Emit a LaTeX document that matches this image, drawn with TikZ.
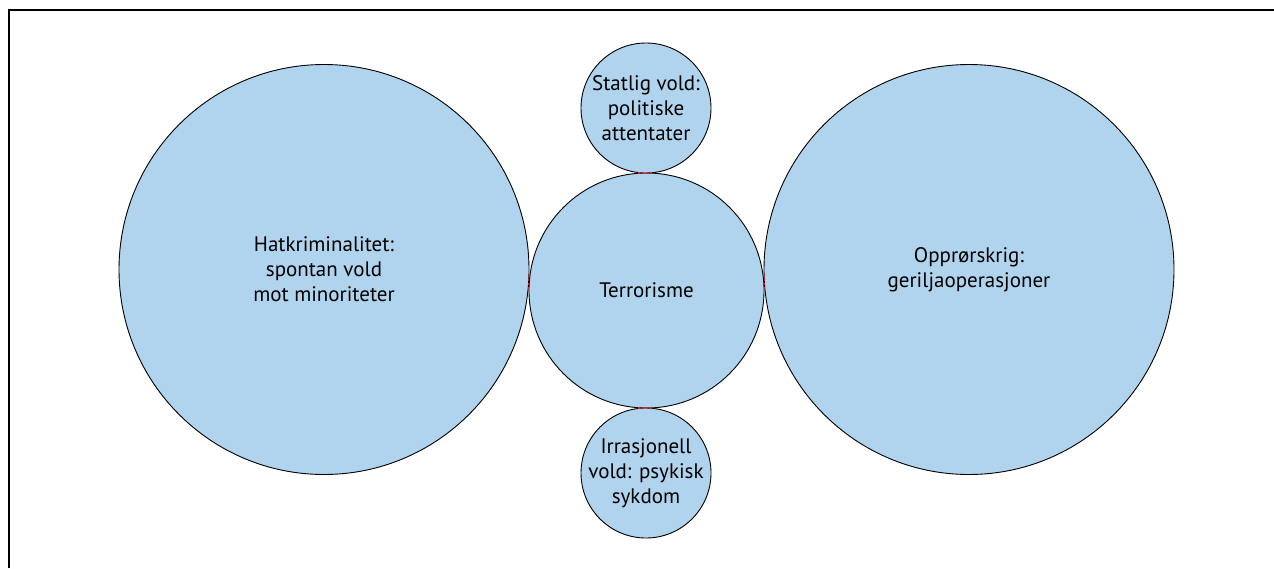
\documentclass[tikz,border=0pt]{standalone}
\usepackage{fontspec}
\setmainfont{PT Sans}
\usetikzlibrary{calc}
\definecolor{bubble}{RGB}{176,212,238}
\definecolor{tred}{RGB}{225,30,40}
\tikzset{
  bub/.style={circle, draw=black, line width=0.9pt, fill=bubble, inner sep=0pt},
  txt/.style={align=center, inner sep=0pt, font=\fontsize{21}{25}\selectfont},
  reddash/.style={draw=tred, line width=1.2pt, dash pattern=on 2pt off 2pt},
  frame/.style={line width=2pt, draw=black}
}
\begin{document}
\begin{tikzpicture}[x=1pt,y=-1pt]
\useasboundingbox (0,0) rectangle (1274,568);
\draw[frame] (8.5,568) -- (8.5,9.5) -- (1274,9.5);
\node[bub, minimum size=410pt] (L) at (324,269.5) {};
\node[bub, minimum size=410pt] (R) at (969,269.5) {};
\node[bub, minimum size=235pt] (T) at (646.5,290.5) {};
\node[bub, minimum size=130pt] (S) at (646,108) {};
\node[bub, minimum size=130pt] (B) at (646,473) {};
\node[txt] (Lt) at (L.center) {Hatkriminalitet:\\spontan vold\\mot minoriteter};
\node[txt] (Rt) at (R.center) {Opprørskrig:\\geriljaoperasjoner};
\node[txt] (Tt) at (T.center) {Terrorisme};
\node[txt] (St) at (S.center) {Statlig vold:\\politiske\\attentater};
\node[txt] (Bt) at (B.center) {Irrasjonell\\vold: psykisk\\sykdom};
\coordinate (tl) at ($(L.center)!205pt!(T.center)$);
\coordinate (tr) at ($(R.center)!205pt!(T.center)$);
\coordinate (tt) at ($(S.center)!65pt!(T.center)$);
\coordinate (tb) at ($(B.center)!65pt!(T.center)$);
\draw[reddash] ($(tl)+(0,-8)$) -- ($(tl)+(0,8)$);
\draw[reddash] ($(tr)+(0,-8)$) -- ($(tr)+(0,8)$);
\draw[reddash] ($(tt)+(-8,0)$) -- ($(tt)+(8,0)$);
\draw[reddash] ($(tb)+(-8,0)$) -- ($(tb)+(8,0)$);
\end{tikzpicture}
\end{document}
